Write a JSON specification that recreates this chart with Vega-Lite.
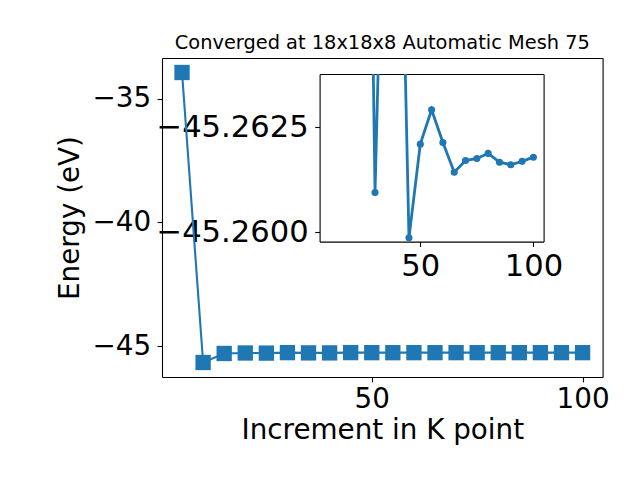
{
 "$schema": "https://vega.github.io/schema/vega-lite/v6.json",
 "width": 440.6,
 "height": 303,
 "padding": {"left": 56, "top": 32, "right": 5, "bottom": 5},
 "title": {"text": "Converged at 18x18x8 Automatic Mesh 75", "offset": 5},
 "datasets": {
  "k": [
   {"kpoint": 5, "energy": -33.94},
   {"kpoint": 10, "energy": -45.66},
   {"kpoint": 15, "energy": -45.295},
   {"kpoint": 20, "energy": -45.275},
   {"kpoint": 25, "energy": -45.2797},
   {"kpoint": 30, "energy": -45.26095},
   {"kpoint": 35, "energy": -45.27155},
   {"kpoint": 40, "energy": -45.27207},
   {"kpoint": 45, "energy": -45.25987},
   {"kpoint": 50, "energy": -45.2621},
   {"kpoint": 55, "energy": -45.26292},
   {"kpoint": 60, "energy": -45.26214},
   {"kpoint": 65, "energy": -45.26143},
   {"kpoint": 70, "energy": -45.26171},
   {"kpoint": 75, "energy": -45.26176},
   {"kpoint": 80, "energy": -45.26188},
   {"kpoint": 85, "energy": -45.26167},
   {"kpoint": 90, "energy": -45.26161},
   {"kpoint": 95, "energy": -45.26169},
   {"kpoint": 100, "energy": -45.26179}
  ]
 },
 "config": {
  "font": "DejaVu Sans",
  "view": {"stroke": null},
  "axis": {"domain": true, "domainColor": "black", "domainWidth": 1.1, "grid": false, "ticks": true, "tickColor": "black", "tickWidth": 1.1, "tickSize": 4.9, "labelFont": "DejaVu Sans", "labelFontSize": 27.8, "labelColor": "black", "titleFont": "DejaVu Sans", "titleFontSize": 27.8, "titleFontWeight": "normal", "titleColor": "black", "labelFlush": false, "labelOverlap": false},
  "title": {"font": "DejaVu Sans", "fontSize": 19.4, "fontWeight": "normal", "color": "black"}
 },
 "resolve": {"scale": {"x": "independent", "y": "independent"}, "axis": {"x": "independent", "y": "independent"}},
 "layer": [
  {
   "data": {"name": "k"},
   "encoding": {
    "x": {"field": "kpoint", "type": "quantitative", "scale": {"domain": [0.25, 104.75], "nice": false, "zero": false}, "axis": {"orient": "bottom", "values": [50, 100], "title": "Increment in K point", "labelPadding": 3.7, "titlePadding": 3}},
    "y": {"field": "energy", "type": "quantitative", "scale": {"domain": [-46.246, -33.354], "range": [303, -16], "nice": false, "zero": false}, "axis": {"orient": "left", "values": [-35, -40, -45], "format": "d", "title": "Energy (eV)", "labelPadding": 6.5, "titlePadding": 7}}
   },
   "layer": [
    {"mark": {"type": "line", "color": "#1f77b4", "strokeWidth": 2.1}},
    {"mark": {"type": "point", "shape": "square", "filled": true, "size": 235, "color": "#1f77b4", "opacity": 1}}
   ]
  },
  {
   "data": {"name": "k"},
   "encoding": {
    "x": {"field": "kpoint", "type": "quantitative", "scale": {"domain": [0.25, 104.75], "nice": false, "zero": false}, "axis": {"orient": "top", "offset": 16, "labels": false, "ticks": false, "title": null}},
    "y": {"field": "energy", "type": "quantitative", "scale": {"domain": [-46.246, -33.354], "range": [303, -16], "nice": false, "zero": false}, "axis": {"orient": "right", "labels": false, "ticks": false, "title": null}}
   },
   "mark": {"type": "point", "opacity": 0, "clip": true}
  },
  {
   "data": {"name": "k"},
   "transform": [{"filter": "datum.kpoint >= 10"}],
   "encoding": {
    "x": {"field": "kpoint", "type": "quantitative", "scale": {"domain": [5.5, 104.5], "range": [157.6, 381.6], "nice": false, "zero": false}, "axis": {"orient": "bottom", "offset": -135.4, "values": [50, 100], "title": null, "labelFontSize": 30.6, "labelPadding": 4.6}},
    "y": {"field": "energy", "type": "quantitative", "scale": {"domain": [-45.26377, -45.25978], "range": [0, 167.6], "nice": false, "zero": false}, "axis": {"orient": "left", "offset": -157.6, "values": [-45.2625, -45.26], "format": ".4f", "title": null, "labelFontSize": 30.6, "labelPadding": 6.6}}
   },
   "layer": [
    {"mark": {"type": "line", "clip": true, "color": "#1f77b4", "strokeWidth": 2.8}},
    {"mark": {"type": "circle", "clip": true, "size": 50, "color": "#1f77b4", "opacity": 1}}
   ]
  },
  {
   "data": {"name": "k"},
   "transform": [{"filter": "datum.kpoint >= 10"}],
   "encoding": {
    "x": {"field": "kpoint", "type": "quantitative", "scale": {"domain": [5.5, 104.5], "range": [157.6, 381.6], "nice": false, "zero": false}, "axis": {"orient": "top", "labels": false, "ticks": false, "title": null}},
    "y": {"field": "energy", "type": "quantitative", "scale": {"domain": [-45.26377, -45.25978], "range": [0, 167.6], "nice": false, "zero": false}, "axis": {"orient": "right", "offset": -59, "labels": false, "ticks": false, "title": null}}
   },
   "mark": {"type": "point", "opacity": 0, "clip": true}
  }
 ]
}
